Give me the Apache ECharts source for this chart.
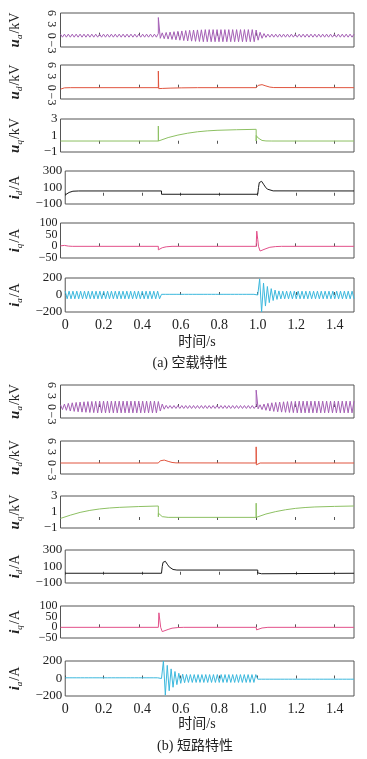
<!DOCTYPE html>
<html>
<head>
<meta charset="utf-8">
<script src="https://cdn.jsdelivr.net/npm/echarts@6/dist/echarts.min.js"></script>
<style>
  html, body { margin: 0; padding: 0; background: #fff; }
  #chart { width: 367px; height: 759px; }
</style>
</head>
<body>
<div id="chart"></div>
<script>
// 横轴刻度
const xTicks = [0, 0.2, 0.4, 0.6, 0.8, 1.0, 1.2, 1.4]
const halfStep = 0.01 // 交流量按半周期峰值取点

// ---------- (a) 空载特性 ----------
const uaA = [
  0.4,-0.4,0.4,-0.4,0.4,-0.4,0.4,-0.4,0.4,-0.4,
  0.4,-0.4,0.4,-0.4,0.4,-0.4,0.4,-0.4,0.4,-0.4,
  0.4,-0.4,0.4,-0.4,0.4,-0.4,0.4,-0.4,0.4,-0.4,
  0.4,-0.4,0.4,-0.4,0.4,-0.4,0.4,-0.4,0.4,-0.4,
  0.4,-0.4,0.4,-0.4,0.4,-0.4,0.4,-0.4,0.4,-0.4,
  0.6,-0.7,0.75,-0.8,0.85,-0.9,0.95,-1.0,1.05,-1.1,
  1.15,-1.2,1.25,-1.3,1.35,-1.4,1.42,-1.45,1.48,-1.5,
  1.52,-1.54,1.55,-1.6,1.6,-1.6,1.6,-1.6,1.6,-1.6,
  1.6,-1.6,1.6,-1.6,1.6,-1.6,1.6,-1.6,1.6,-1.6,
  1.6,-1.6,1.6,-1.6,1.6,-1.6,1.6,-1.6,1.6,-1.6,
  1.5,-1.2,0.9,-0.7,0.55,-0.45,0.4,-0.4,0.4,-0.4,
  0.4,-0.4,0.4,-0.4,0.4,-0.4,0.4,-0.4,0.4,-0.4,
  0.4,-0.4,0.4,-0.4,0.4,-0.4,0.4,-0.4,0.4,-0.4,
  0.4,-0.4,0.4,-0.4,0.4,-0.4,0.4,-0.4,0.4,-0.4,
  0.4,-0.4,0.4,-0.4,0.4,-0.4,0.4,-0.4,0.4,-0.4,
  0.4
]
const uaASpikeT = [0.5]
const uaASpikeV = [4.8]

const udATime = [0, 0.01, 0.02, 0.03, 0.05, 0.5, 0.5, 0.502, 0.52, 0.56, 0.62, 0.7, 1.0, 1.01, 1.02, 1.03, 1.05, 1.07, 1.09, 1.1, 1.5]
const udAVal = [-0.4, -0.2, -0.05, 0, 0, 0, 4.4, -0.25, -0.2, -0.12, -0.05, 0, 0, 0.6, 0.9, 0.8, 0.45, 0.15, 0.03, 0, 0]

const uqATime = [0, 0.5, 0.5, 0.5005, 0.55, 0.6, 0.65, 0.7, 0.75, 0.8, 0.9, 1.0, 1.0, 1.0005, 1.01, 1.02, 1.03, 1.05, 1.08, 1.5]
const uqAVal = [0.33, 0.33, 2.15, 0.33, 0.75, 1.05, 1.28, 1.45, 1.56, 1.63, 1.7, 1.75, 0.33, 1.0, 0.7, 0.5, 0.4, 0.34, 0.33, 0.33]

const idATime = [0, 0.01, 0.02, 0.03, 0.04, 0.05, 0.07, 0.5, 0.5, 1.0, 1.004, 1.008, 1.012, 1.016, 1.02, 1.03, 1.04, 1.05, 1.06, 1.08, 1.5]
const idAVal = [10, 25, 40, 50, 55, 57, 58, 58, 18, 18, 100, 160, 180, 183, 175, 140, 105, 80, 66, 59, 58]

const iqATime = [0, 0.01, 0.02, 0.04, 0.06, 0.5, 0.5, 0.51, 0.52, 0.54, 0.57, 1.0, 1.003, 1.008, 1.012, 1.02, 1.03, 1.05, 1.07, 1.1, 1.13, 1.5]
const iqAVal = [2, 5, 4, 1, 0, 0, -15, -10, -6, -2, 0, 0, 65, 30, 0, -20, -18, -10, -4, -1, 0, 0]

const iaA = [
  45,-45,45,-45,45,-45,45,-45,45,-45,
  45,-45,45,-45,45,-45,45,-45,45,-45,
  45,-45,45,-45,45,-45,45,-45,45,-45,
  45,-45,45,-45,45,-45,45,-45,45,-45,
  45,-45,45,-45,45,-45,45,-45,45,-45,
  8,-8,8,-8,8,-8,8,-8,8,-8,
  8,-8,8,-8,8,-8,8,-8,8,-8,
  8,-8,8,-8,8,-8,8,-8,8,-8,
  8,-8,8,-8,8,-8,8,-8,8,-8,
  8,-8,8,-8,8,-8,8,-8,8,-8,
  0,190,-200,140,-130,100,-90,75,-65,58,
  -52,48,-46,45,-45,45,-45,45,-45,45,
  -45,45,-45,45,-45,45,-45,45,-45,45,
  -45,45,-45,45,-45,45,-45,45,-45,45,
  -45,45,-45,45,-45,45,-45,45,-45,45,
  -45
]

// ---------- (b) 短路特性 ----------
const uaB = [
  0.6,-0.7,0.8,-0.9,1.0,-1.1,1.15,-1.2,1.25,-1.3,
  1.35,-1.4,1.42,-1.45,1.48,-1.5,1.52,-1.54,1.55,-1.6,
  1.6,-1.6,1.6,-1.6,1.6,-1.6,1.6,-1.6,1.6,-1.6,
  1.6,-1.6,1.6,-1.6,1.6,-1.6,1.6,-1.6,1.6,-1.6,
  1.6,-1.6,1.6,-1.6,1.6,-1.6,1.6,-1.6,1.6,-1.6,
  1.5,-1.1,0.8,-0.6,0.45,-0.4,0.4,-0.4,0.4,-0.4,
  0.4,-0.4,0.4,-0.4,0.4,-0.4,0.4,-0.4,0.4,-0.4,
  0.4,-0.4,0.4,-0.4,0.4,-0.4,0.4,-0.4,0.4,-0.4,
  0.4,-0.4,0.4,-0.4,0.4,-0.4,0.4,-0.4,0.4,-0.4,
  0.4,-0.4,0.4,-0.4,0.4,-0.4,0.4,-0.4,0.4,-0.4,
  0.4,-0.5,0.6,-0.7,0.8,-0.9,1.0,-1.1,1.15,-1.2,
  1.25,-1.3,1.35,-1.4,1.42,-1.45,1.48,-1.5,1.52,-1.54,
  1.55,-1.6,1.6,-1.6,1.6,-1.6,1.6,-1.6,1.6,-1.6,
  1.6,-1.6,1.6,-1.6,1.6,-1.6,1.6,-1.6,1.6,-1.6,
  1.6,-1.6,1.6,-1.6,1.6,-1.6,1.6,-1.6,1.6,-1.6,
  1.6
]
const uaBSpikeT = [1.0]
const uaBSpikeV = [4.6]

const udBTime = [0, 0.5, 0.51, 0.52, 0.53, 0.55, 0.57, 0.59, 0.6, 1.0, 1.0, 1.001, 1.006, 1.02, 1.5]
const udBVal = [0, 0, 0.6, 0.9, 0.8, 0.45, 0.15, 0.03, 0, 0, 4.4, -0.5, -0.15, 0, 0]

const uqBTime = [0, 0.05, 0.1, 0.15, 0.2, 0.25, 0.3, 0.4, 0.5, 0.5, 0.5005, 0.51, 0.52, 0.53, 0.55, 1.0, 1.0, 1.0005, 1.05, 1.1, 1.15, 1.2, 1.25, 1.3, 1.4, 1.5]
const uqBVal = [0.2, 0.6, 0.95, 1.2, 1.38, 1.5, 1.58, 1.68, 1.75, 0.4, 0.85, 0.6, 0.42, 0.35, 0.33, 0.33, 2.1, 0.33, 0.75, 1.05, 1.28, 1.45, 1.56, 1.63, 1.7, 1.75]

const idBTime = [0, 0.5, 0.504, 0.508, 0.512, 0.516, 0.52, 0.53, 0.54, 0.55, 0.56, 0.58, 1.0, 1.0, 1.005, 1.01, 1.02, 1.03, 1.5]
const idBVal = [18, 18, 100, 150, 168, 170, 163, 128, 95, 75, 64, 57, 57, 22, 8, 5, 12, 17, 18]

const iqBTime = [0, 0.5, 0.503, 0.508, 0.512, 0.52, 0.53, 0.55, 0.57, 0.6, 0.63, 1.0, 1.002, 1.01, 1.03, 1.06, 1.5]
const iqBVal = [0, 0, 68, 30, 0, -20, -18, -10, -4, -1, 0, 0, -12, -7, -3, 0, 0]

const iaB = [
  8,-8,8,-8,8,-8,8,-8,8,-8,
  8,-8,8,-8,8,-8,8,-8,8,-8,
  8,-8,8,-8,8,-8,8,-8,8,-8,
  8,-8,8,-8,8,-8,8,-8,8,-8,
  8,-8,8,-8,8,-8,8,-8,8,-8,
  0,200,-190,150,-140,110,-100,80,-70,60,
  -55,50,-48,46,-45,45,-45,45,-45,45,
  -45,45,-45,45,-45,45,-45,45,-45,45,
  -45,45,-45,45,-45,45,-45,45,-45,45,
  -45,45,-45,45,-45,45,-45,45,-45,45,
  -8,8,-8,8,-8,8,-8,8,-8,8,
  -8,8,-8,8,-8,8,-8,8,-8,8,
  -8,8,-8,8,-8,8,-8,8,-8,8,
  -8,8,-8,8,-8,8,-8,8,-8,8,
  -8,8,-8,8,-8,8,-8,8,-8,8,
  -8
]

// y轴刻度
const uTicks = [-3, 0, 3, 6]
const uqTicks = [-1, 1, 3]
const idTicks = [-100, 100, 300]
const iqTicks = [-50, 0, 50, 100]
const iaTicks = [-200, 0, 200]

// ---------- 工具函数 ----------
function pairs(ts, vs) {
  return ts.map((t, i) => [t, vs[i]])
}
function oscPairs(vs, spT, spV) {
  const out = []
  vs.forEach((v, k) => {
    const t = +(k * halfStep).toFixed(3)
    out.push([t, v])
    spT.forEach((s, j) => {
      if (Math.abs(s - t) < 1e-9) out.push([s, spV[j]])
    })
  })
  return out
}

const SERIF = '"Liberation Serif", "Times New Roman", serif'
const CJK = '"Liberation Serif", "Noto Sans CJK SC", serif'

// 颜色
const cUa = '#a45fb5', cUd = '#e0553f', cUq = '#8dc063', cId = '#1a1a1a', cIq = '#e2508a', cIa = '#3cb8dd'

const panels = [
  { top: 13,  h: 34, data: oscPairs(uaA, uaASpikeT, uaASpikeV), color: cUa, min: -3, max: 6, ticks: uTicks, sym: 'u', sub: 'a', unit: 'kV', rot: true },
  { top: 65,  h: 34, data: pairs(udATime, udAVal), color: cUd, min: -3, max: 6, ticks: uTicks, sym: 'u', sub: 'd', unit: 'kV', rot: true },
  { top: 119, h: 33, data: pairs(uqATime, uqAVal), color: cUq, min: -1, max: 3, ticks: uqTicks, sym: 'u', sub: 'q', unit: 'kV' },
  { top: 171, h: 33, data: pairs(idATime, idAVal), color: cId, min: -100, max: 300, ticks: idTicks, sym: 'i', sub: 'd', unit: 'A' },
  { top: 223, h: 35, data: pairs(iqATime, iqAVal), color: cIq, min: -50, max: 100, ticks: iqTicks, sym: 'i', sub: 'q', unit: 'A', dense: true },
  { top: 278, h: 34, data: oscPairs(iaA, [], []), color: cIa, min: -200, max: 200, ticks: iaTicks, sym: 'i', sub: 'a', unit: 'A', bottom: true },
  { top: 385, h: 33, data: oscPairs(uaB, uaBSpikeT, uaBSpikeV), color: cUa, min: -3, max: 6, ticks: uTicks, sym: 'u', sub: 'a', unit: 'kV', rot: true },
  { top: 441, h: 33, data: pairs(udBTime, udBVal), color: cUd, min: -3, max: 6, ticks: uTicks, sym: 'u', sub: 'd', unit: 'kV', rot: true },
  { top: 496, h: 32, data: pairs(uqBTime, uqBVal), color: cUq, min: -1, max: 3, ticks: uqTicks, sym: 'u', sub: 'q', unit: 'kV' },
  { top: 550, h: 33, data: pairs(idBTime, idBVal), color: cId, min: -100, max: 300, ticks: idTicks, sym: 'i', sub: 'd', unit: 'A' },
  { top: 606, h: 32, data: pairs(iqBTime, iqBVal), color: cIq, min: -50, max: 100, ticks: iqTicks, sym: 'i', sub: 'q', unit: 'A', dense: true },
  { top: 661, h: 35, data: oscPairs(iaB, [], []), color: cIa, min: -200, max: 200, ticks: iaTicks, sym: 'i', sub: 'a', unit: 'A', bottom: true }
]

const minus = v => String(v).replace('-', '\u2212')

function yLabel(p, values) {
  return {
    customValues: values, margin: 3, rotate: p.rot ? -90 : 0,
    fontFamily: SERIF, fontSize: p.rot ? 12 : (p.dense ? 12 : 13), color: '#222',
    formatter: minus
  }
}

const grid = [], xAxis = [], yAxis = [], series = []
panels.forEach((p, i) => {
  grid.push({
    left: 57, width: 297, top: p.top, height: p.h,
    show: true, borderColor: '#555', borderWidth: 1, backgroundColor: 'transparent'
  })
  xAxis.push({
    gridIndex: i, type: 'value', min: 0, max: 1.5,
    axisLine: { show: false },
    axisTick: { show: true, inside: true, length: 3, customValues: xTicks, lineStyle: { color: '#555' } },
    splitLine: { show: false },
    axisLabel: {
      show: !!p.bottom, customValues: xTicks, margin: 6,
      fontFamily: SERIF, fontSize: 14, color: '#222',
      formatter: v => (v === 0 ? '0' : v.toFixed(1))
    }
  })
  // 刻度很密时拆成两根轴各画一半标签，避免被自动隐藏
  const mainTicks = p.dense ? p.ticks.filter((_, k) => k % 2 === 0) : p.ticks
  const yIdx = yAxis.length
  yAxis.push({
    gridIndex: i, type: 'value', min: p.min, max: p.max,
    axisLine: { show: false },
    axisTick: { show: false },
    splitLine: { show: false },
    axisLabel: yLabel(p, mainTicks),
    name: '{v|' + p.sym + '}{s|' + p.sub + '}{n|/' + p.unit + '}',
    nameLocation: 'middle', nameRotate: 90, nameGap: 36,
    nameTextStyle: {
      color: '#222',
      rich: {
        v: { fontFamily: SERIF, fontStyle: 'italic', fontWeight: 'bold', fontSize: 15, lineHeight: 18, color: '#222' },
        s: { fontFamily: SERIF, fontStyle: 'italic', fontSize: 9, lineHeight: 18, verticalAlign: 'bottom', padding: [0, 1, 0, 0], color: '#222' },
        n: { fontFamily: SERIF, fontSize: 14, lineHeight: 18, color: '#222' }
      }
    }
  })
  if (p.dense) {
    yAxis.push({
      gridIndex: i, type: 'value', min: p.min, max: p.max, position: 'left',
      axisLine: { show: false },
      axisTick: { show: false },
      splitLine: { show: false },
      axisLabel: yLabel(p, p.ticks.filter((_, k) => k % 2 === 1))
    })
  }
  series.push({
    type: 'line', xAxisIndex: i, yAxisIndex: yIdx,
    data: p.data, showSymbol: false, silent: true,
    lineStyle: { color: p.color, width: 1 },
    clip: true
  })
})

const chart = echarts.init(document.getElementById('chart'))
chart.setOption({
  animation: false,
  backgroundColor: '#fff',
  grid, xAxis, yAxis, series,
  graphic: [
    { type: 'text', x: 197, y: 342, style: { text: '时间/s', font: '14px ' + CJK, fill: '#222', align: 'center', verticalAlign: 'middle' } },
    { type: 'text', x: 190, y: 363, style: { text: '(a) 空载特性', font: '14px ' + CJK, fill: '#222', align: 'center', verticalAlign: 'middle' } },
    { type: 'text', x: 197, y: 724, style: { text: '时间/s', font: '14px ' + CJK, fill: '#222', align: 'center', verticalAlign: 'middle' } },
    { type: 'text', x: 195, y: 746, style: { text: '(b) 短路特性', font: '14px ' + CJK, fill: '#222', align: 'center', verticalAlign: 'middle' } }
  ]
})
</script>
</body>
</html>
